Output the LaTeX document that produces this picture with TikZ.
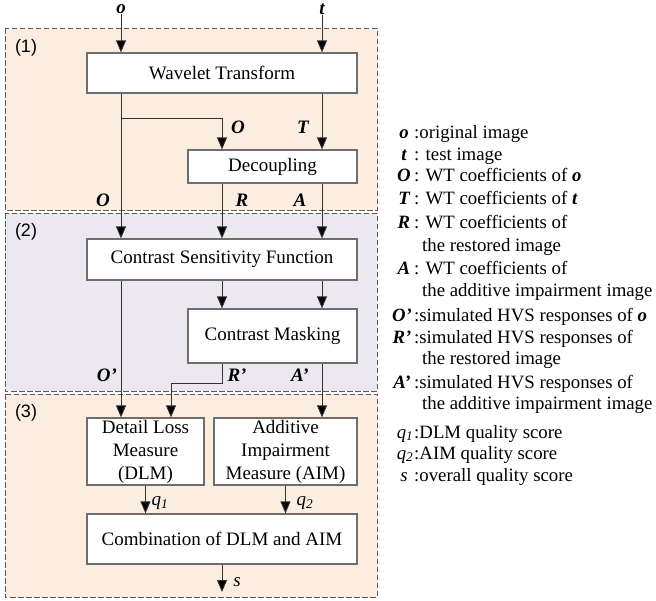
\documentclass[tikz,border=0pt]{standalone}
\usepackage{fontspec}
\setmainfont{Liberation Serif}
\newfontfamily\panelfont{Liberation Sans}
\usetikzlibrary{arrows.meta}
\definecolor{peach}{HTML}{FCEDE1}
\definecolor{lilac}{HTML}{EBE8F0}
\definecolor{edgegray}{HTML}{5A5A5A}
\definecolor{boxline}{HTML}{6E6E6E}
\definecolor{wirec}{HTML}{333333}
\tikzset{
  panel/.style={draw=edgegray, dash pattern=on 5.5pt off 2.5pt, line width=0.9pt},
  block/.style={draw=boxline, fill=white, line width=1.2pt, inner sep=0pt,
    align=center, font=\fontsize{19}{23}\selectfont},
  arr/.style={draw=wirec, line width=0.9pt, -{Triangle[length=12pt,width=10pt,fill=black]}},
  wire/.style={draw=wirec, line width=0.9pt},
  sym/.style={font=\fontsize{19}{22}\selectfont\bfseries\itshape, inner sep=0pt},
  qlab/.style={font=\fontsize{19}{22}\selectfont\itshape, inner sep=0pt},
  legtext/.style={font=\fontsize{18.8}{22}\selectfont, inner sep=0pt, anchor=base west},
  legsym/.style={font=\fontsize{18.8}{22}\selectfont\bfseries\itshape, inner sep=0pt, anchor=base},
  legq/.style={font=\fontsize{18.8}{22}\selectfont\itshape, inner sep=0pt, anchor=base},
  panellab/.style={font=\panelfont\fontsize{18}{20}\selectfont, inner sep=0pt}
}
\begin{document}
\begin{tikzpicture}[x=1pt,y=-1pt]
\useasboundingbox (0,0) rectangle (656,600);

% the three stages
\path[panel, fill=peach] (5,28) rectangle (377,210);
\path[panel, fill=lilac] (5,213) rectangle (377,391);
\path[panel, fill=peach] (5,394) rectangle (377,597);
\node[panellab] (p1) at (26,48) {(1)};
\node[panellab] (p2) at (26,232) {(2)};
\node[panellab] (p3) at (26,413) {(3)};

% signal columns
\coordinate (cL) at (121,0);
\coordinate (cD) at (171,0);
\coordinate (cM) at (222,0);
\coordinate (cR) at (322,0);

% processing blocks
\node[block, minimum width=270pt, minimum height=40pt] (wt) at (222,73) {Wavelet Transform};
\node[block, minimum width=169pt, minimum height=33pt] (dec) at (272.5,166.5) {Decoupling};
\node[block, minimum width=270pt, minimum height=41pt] (csf) at (222,259.5) {Contrast Sensitivity Function};
\node[block, minimum width=169pt, minimum height=54pt] (cm) at (272.5,336) {Contrast Masking};
\node[block, minimum width=117pt, minimum height=67pt] (dlm) at (145.5,451.5) {Detail Loss\\Measure\\(DLM)};
\node[block, minimum width=143pt, minimum height=67pt] (aim) at (285.5,451.5) {Additive\\Impairment\\Measure (AIM)};
\node[block, minimum width=270pt, minimum height=50pt] (comb) at (222,539) {Combination of DLM and AIM};

% inputs
\node[sym] (o) at (121,9) {o};
\node[sym] (t) at (322,9) {t};
\draw[arr] (o.south) -- (o.south |- wt.north);
\draw[arr] (t.south) -- (t.south |- wt.north);

% stage 1 connectors
\coordinate (j1) at (121,118);
\draw[arr] (cL |- wt.south) -- (cL |- csf.north);
\draw[arr] (j1) -| (cM |- dec.north);
\draw[arr] (cR |- wt.south) -- (cR |- dec.north);
\node[sym] (lO1) at (238,127) {O};
\node[sym] (lT) at (303,127) {T};
\node[sym] (lO2) at (103,200) {O};
\node[sym] (lR) at (242,200) {R};
\node[sym] (lA) at (300,200) {A};

% stage 2 connectors
\draw[arr] (cM |- dec.south) -- (cM |- csf.north);
\draw[arr] (cR |- dec.south) -- (cR |- csf.north);
\draw[arr] (cM |- csf.south) -- (cM |- cm.north);
\draw[arr] (cR |- csf.south) -- (cR |- cm.north);
\node[sym] (lO3) at (107,375) {O'};
\node[sym] (lR2) at (237,375) {R'};
\node[sym] (lA2) at (300,375) {A'};

% stage 3 connectors
\coordinate (j2) at (171,383);
\draw[arr] (cL |- csf.south) -- (cL |- dlm.north);
\draw[arr] (cM |- cm.south) |- (j2) -- (cD |- dlm.north);
\draw[arr] (cR |- cm.south) -- (cR |- aim.north);
\draw[arr] (dlm.south) -- (dlm.south |- comb.north);
\draw[arr] (aim.south) -- (aim.south |- comb.north);
\coordinate (sEnd) at (222,592);
\draw[arr] (comb.south) -- (sEnd);
\node[qlab] (q1) at (160,503) {q\textsubscript{1}};
\node[qlab] (q2) at (305,503) {q\textsubscript{2}};
\node[qlab] (sl) at (237,582) {s};

% legend
\node[legsym] (k1) at (404,138) {o};
\node[legtext] at (414,138) {:original image};
\node[legsym] (k2) at (404,160) {t};
\node[legtext] at (414,160) {: test image};
\node[legsym] (k3) at (404,181) {O};
\node[legtext] at (414,181) {: WT coefficients of \textbf{\textit{o}}};
\node[legsym] (k4) at (404,204) {T};
\node[legtext] at (414,204) {: WT coefficients of \textbf{\textit{t}}};
\node[legsym] (k5) at (404,228) {R};
\node[legtext] at (414,228) {: WT coefficients of};
\node[legtext] at (422,251) {the restored image};
\node[legsym] (k6) at (404,274) {A};
\node[legtext] at (414,274) {: WT coefficients of};
\node[legtext] at (422,296) {the additive impairment image};
\node[legsym] (k7) at (402,321) {O'};
\node[legtext] at (414,321) {:simulated HVS responses of \textbf{\textit{o}}};
\node[legsym] (k8) at (402,343) {R'};
\node[legtext] at (414,343) {:simulated HVS responses of};
\node[legtext] at (422,364) {the restored image};
\node[legsym] (k9) at (402,388) {A'};
\node[legtext] at (414,388) {:simulated HVS responses of};
\node[legtext] at (422,409) {the additive impairment image};
\node[legq] (k10) at (405,438) {q\textsubscript{1}};
\node[legtext] at (414,438) {:DLM quality score};
\node[legq] (k11) at (405,459) {q\textsubscript{2}};
\node[legtext] at (414,459) {:AIM quality score};
\node[legq] (k12) at (404,481) {s};
\node[legtext] at (414,481) {:overall quality score};
\end{tikzpicture}
\end{document}
